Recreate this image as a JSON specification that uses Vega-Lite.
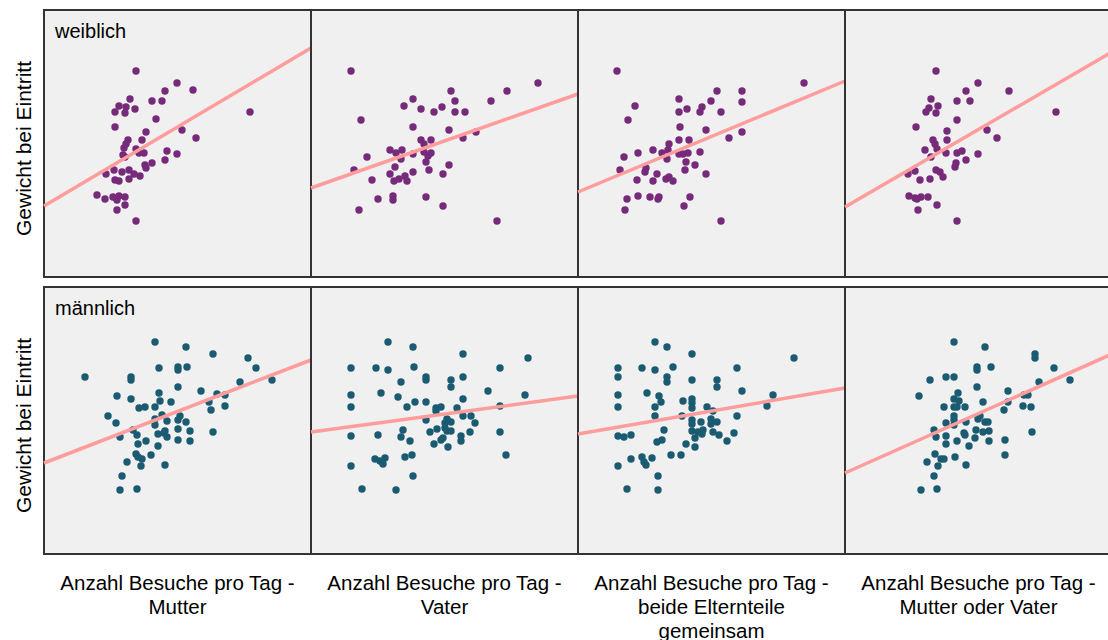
{
"$schema": "https://vega.github.io/schema/vega-lite/v6.json",
"padding": {"left": 13, "top": 9, "right": 0, "bottom": 0},
"background": "white",
"bounds": "flush",
"data": {"values": [
{"s":"weiblich","v":"Mutter","k":"l"},
{"s":"männlich","v":"Mutter","k":"l"},
{"s":"weiblich","v":"Mutter","k":"f","x":0,"y":71},
{"s":"weiblich","v":"Mutter","k":"f","x":267,"y":229},
{"s":"weiblich","v":"Vater","k":"f","x":0,"y":89},
{"s":"weiblich","v":"Vater","k":"f","x":267,"y":183},
{"s":"weiblich","v":"beide Elternteile gemeinsam","k":"f","x":0,"y":85},
{"s":"weiblich","v":"beide Elternteile gemeinsam","k":"f","x":267,"y":196},
{"s":"weiblich","v":"Mutter oder Vater","k":"f","x":0,"y":70},
{"s":"weiblich","v":"Mutter oder Vater","k":"f","x":267,"y":225},
{"s":"männlich","v":"Mutter","k":"f","x":0,"y":91},
{"s":"männlich","v":"Mutter","k":"f","x":267,"y":194},
{"s":"männlich","v":"Vater","k":"f","x":0,"y":122},
{"s":"männlich","v":"Vater","k":"f","x":267,"y":158},
{"s":"männlich","v":"beide Elternteile gemeinsam","k":"f","x":0,"y":120},
{"s":"männlich","v":"beide Elternteile gemeinsam","k":"f","x":267,"y":166},
{"s":"männlich","v":"Mutter oder Vater","k":"f","x":0,"y":81},
{"s":"männlich","v":"Mutter oder Vater","k":"f","x":267,"y":200},
{"s":"weiblich","v":"Mutter","k":"p","x":92,"y":206},
{"s":"weiblich","v":"Mutter","k":"p","x":133,"y":194},
{"s":"weiblich","v":"Mutter","k":"p","x":121,"y":186},
{"s":"weiblich","v":"Mutter","k":"p","x":149,"y":187},
{"s":"weiblich","v":"Mutter","k":"p","x":86,"y":178},
{"s":"weiblich","v":"Mutter","k":"p","x":108,"y":176},
{"s":"weiblich","v":"Mutter","k":"p","x":118,"y":176},
{"s":"weiblich","v":"Mutter","k":"p","x":75,"y":171},
{"s":"weiblich","v":"Mutter","k":"p","x":82,"y":170},
{"s":"weiblich","v":"Mutter","k":"p","x":91,"y":168},
{"s":"weiblich","v":"Mutter","k":"p","x":71,"y":165},
{"s":"weiblich","v":"Mutter","k":"p","x":81,"y":164},
{"s":"weiblich","v":"Mutter","k":"p","x":206,"y":165},
{"s":"weiblich","v":"Mutter","k":"p","x":112,"y":158},
{"s":"weiblich","v":"Mutter","k":"p","x":71,"y":150},
{"s":"weiblich","v":"Mutter","k":"p","x":102,"y":145},
{"s":"weiblich","v":"Mutter","k":"p","x":138,"y":147},
{"s":"weiblich","v":"Mutter","k":"p","x":152,"y":139},
{"s":"weiblich","v":"Mutter","k":"p","x":98,"y":137},
{"s":"weiblich","v":"Mutter","k":"p","x":84,"y":137},
{"s":"weiblich","v":"Mutter","k":"p","x":82,"y":133},
{"s":"weiblich","v":"Mutter","k":"p","x":80,"y":129},
{"s":"weiblich","v":"Mutter","k":"p","x":92,"y":128},
{"s":"weiblich","v":"Mutter","k":"p","x":95,"y":124},
{"s":"weiblich","v":"Mutter","k":"p","x":100,"y":124},
{"s":"weiblich","v":"Mutter","k":"p","x":79,"y":122},
{"s":"weiblich","v":"Mutter","k":"p","x":123,"y":126},
{"s":"weiblich","v":"Mutter","k":"p","x":133,"y":123},
{"s":"weiblich","v":"Mutter","k":"p","x":81,"y":120},
{"s":"weiblich","v":"Mutter","k":"p","x":108,"y":114},
{"s":"weiblich","v":"Mutter","k":"p","x":121,"y":117},
{"s":"weiblich","v":"Mutter","k":"p","x":101,"y":112},
{"s":"weiblich","v":"Mutter","k":"p","x":102,"y":109},
{"s":"weiblich","v":"Mutter","k":"p","x":70,"y":107},
{"s":"weiblich","v":"Mutter","k":"p","x":62,"y":103},
{"s":"weiblich","v":"Mutter","k":"p","x":78,"y":105},
{"s":"weiblich","v":"Mutter","k":"p","x":85,"y":107},
{"s":"weiblich","v":"Mutter","k":"p","x":90,"y":103},
{"s":"weiblich","v":"Mutter","k":"p","x":96,"y":101},
{"s":"weiblich","v":"Mutter","k":"p","x":71,"y":97},
{"s":"weiblich","v":"Mutter","k":"p","x":75,"y":96},
{"s":"weiblich","v":"Mutter","k":"p","x":85,"y":98},
{"s":"weiblich","v":"Mutter","k":"p","x":53,"y":82},
{"s":"weiblich","v":"Mutter","k":"p","x":61,"y":78},
{"s":"weiblich","v":"Mutter","k":"p","x":69,"y":80},
{"s":"weiblich","v":"Mutter","k":"p","x":75,"y":81},
{"s":"weiblich","v":"Mutter","k":"p","x":81,"y":80},
{"s":"weiblich","v":"Mutter","k":"p","x":73,"y":77},
{"s":"weiblich","v":"Mutter","k":"p","x":81,"y":72},
{"s":"weiblich","v":"Mutter","k":"p","x":73,"y":67},
{"s":"weiblich","v":"Mutter","k":"p","x":92,"y":56},
{"s":"weiblich","v":"Vater","k":"p","x":40,"y":206},
{"s":"weiblich","v":"Vater","k":"p","x":227,"y":194},
{"s":"weiblich","v":"Vater","k":"p","x":196,"y":186},
{"s":"weiblich","v":"Vater","k":"p","x":140,"y":186},
{"s":"weiblich","v":"Vater","k":"p","x":102,"y":178},
{"s":"weiblich","v":"Vater","k":"p","x":144,"y":176},
{"s":"weiblich","v":"Vater","k":"p","x":180,"y":176},
{"s":"weiblich","v":"Vater","k":"p","x":93,"y":171},
{"s":"weiblich","v":"Vater","k":"p","x":110,"y":168},
{"s":"weiblich","v":"Vater","k":"p","x":131,"y":170},
{"s":"weiblich","v":"Vater","k":"p","x":123,"y":165},
{"s":"weiblich","v":"Vater","k":"p","x":144,"y":165},
{"s":"weiblich","v":"Vater","k":"p","x":154,"y":165},
{"s":"weiblich","v":"Vater","k":"p","x":50,"y":157},
{"s":"weiblich","v":"Vater","k":"p","x":102,"y":150},
{"s":"weiblich","v":"Vater","k":"p","x":138,"y":147},
{"s":"weiblich","v":"Vater","k":"p","x":165,"y":145},
{"s":"weiblich","v":"Vater","k":"p","x":152,"y":139},
{"s":"weiblich","v":"Vater","k":"p","x":110,"y":137},
{"s":"weiblich","v":"Vater","k":"p","x":120,"y":137},
{"s":"weiblich","v":"Vater","k":"p","x":113,"y":133},
{"s":"weiblich","v":"Vater","k":"p","x":79,"y":127},
{"s":"weiblich","v":"Vater","k":"p","x":91,"y":127},
{"s":"weiblich","v":"Vater","k":"p","x":85,"y":124},
{"s":"weiblich","v":"Vater","k":"p","x":102,"y":123},
{"s":"weiblich","v":"Vater","k":"p","x":113,"y":125},
{"s":"weiblich","v":"Vater","k":"p","x":120,"y":124},
{"s":"weiblich","v":"Vater","k":"p","x":117,"y":121},
{"s":"weiblich","v":"Vater","k":"p","x":56,"y":120},
{"s":"weiblich","v":"Vater","k":"p","x":90,"y":118},
{"s":"weiblich","v":"Vater","k":"p","x":115,"y":115},
{"s":"weiblich","v":"Vater","k":"p","x":138,"y":112},
{"s":"weiblich","v":"Vater","k":"p","x":84,"y":110},
{"s":"weiblich","v":"Vater","k":"p","x":43,"y":107},
{"s":"weiblich","v":"Vater","k":"p","x":118,"y":107},
{"s":"weiblich","v":"Vater","k":"p","x":102,"y":105},
{"s":"weiblich","v":"Vater","k":"p","x":79,"y":103},
{"s":"weiblich","v":"Vater","k":"p","x":132,"y":103},
{"s":"weiblich","v":"Vater","k":"p","x":94,"y":101},
{"s":"weiblich","v":"Vater","k":"p","x":61,"y":97},
{"s":"weiblich","v":"Vater","k":"p","x":83,"y":96},
{"s":"weiblich","v":"Vater","k":"p","x":88,"y":98},
{"s":"weiblich","v":"Vater","k":"p","x":96,"y":96},
{"s":"weiblich","v":"Vater","k":"p","x":67,"y":78},
{"s":"weiblich","v":"Vater","k":"p","x":82,"y":81},
{"s":"weiblich","v":"Vater","k":"p","x":82,"y":77},
{"s":"weiblich","v":"Vater","k":"p","x":115,"y":80},
{"s":"weiblich","v":"Vater","k":"p","x":132,"y":71},
{"s":"weiblich","v":"Vater","k":"p","x":48,"y":67},
{"s":"weiblich","v":"Vater","k":"p","x":186,"y":56},
{"s":"weiblich","v":"beide Elternteile gemeinsam","k":"p","x":39,"y":206},
{"s":"weiblich","v":"beide Elternteile gemeinsam","k":"p","x":226,"y":194},
{"s":"weiblich","v":"beide Elternteile gemeinsam","k":"p","x":139,"y":186},
{"s":"weiblich","v":"beide Elternteile gemeinsam","k":"p","x":164,"y":186},
{"s":"weiblich","v":"beide Elternteile gemeinsam","k":"p","x":101,"y":178},
{"s":"weiblich","v":"beide Elternteile gemeinsam","k":"p","x":133,"y":176},
{"s":"weiblich","v":"beide Elternteile gemeinsam","k":"p","x":164,"y":175},
{"s":"weiblich","v":"beide Elternteile gemeinsam","k":"p","x":57,"y":171},
{"s":"weiblich","v":"beide Elternteile gemeinsam","k":"p","x":109,"y":168},
{"s":"weiblich","v":"beide Elternteile gemeinsam","k":"p","x":124,"y":170},
{"s":"weiblich","v":"beide Elternteile gemeinsam","k":"p","x":122,"y":165},
{"s":"weiblich","v":"beide Elternteile gemeinsam","k":"p","x":101,"y":165},
{"s":"weiblich","v":"beide Elternteile gemeinsam","k":"p","x":143,"y":165},
{"s":"weiblich","v":"beide Elternteile gemeinsam","k":"p","x":50,"y":157},
{"s":"weiblich","v":"beide Elternteile gemeinsam","k":"p","x":102,"y":150},
{"s":"weiblich","v":"beide Elternteile gemeinsam","k":"p","x":128,"y":147},
{"s":"weiblich","v":"beide Elternteile gemeinsam","k":"p","x":164,"y":145},
{"s":"weiblich","v":"beide Elternteile gemeinsam","k":"p","x":151,"y":139},
{"s":"weiblich","v":"beide Elternteile gemeinsam","k":"p","x":101,"y":137},
{"s":"weiblich","v":"beide Elternteile gemeinsam","k":"p","x":111,"y":137},
{"s":"weiblich","v":"beide Elternteile gemeinsam","k":"p","x":91,"y":133},
{"s":"weiblich","v":"beide Elternteile gemeinsam","k":"p","x":75,"y":127},
{"s":"weiblich","v":"beide Elternteile gemeinsam","k":"p","x":60,"y":124},
{"s":"weiblich","v":"beide Elternteile gemeinsam","k":"p","x":84,"y":124},
{"s":"weiblich","v":"beide Elternteile gemeinsam","k":"p","x":90,"y":127},
{"s":"weiblich","v":"beide Elternteile gemeinsam","k":"p","x":101,"y":123},
{"s":"weiblich","v":"beide Elternteile gemeinsam","k":"p","x":105,"y":123},
{"s":"weiblich","v":"beide Elternteile gemeinsam","k":"p","x":110,"y":124},
{"s":"weiblich","v":"beide Elternteile gemeinsam","k":"p","x":122,"y":125},
{"s":"weiblich","v":"beide Elternteile gemeinsam","k":"p","x":46,"y":120},
{"s":"weiblich","v":"beide Elternteile gemeinsam","k":"p","x":89,"y":118},
{"s":"weiblich","v":"beide Elternteile gemeinsam","k":"p","x":108,"y":115},
{"s":"weiblich","v":"beide Elternteile gemeinsam","k":"p","x":117,"y":112},
{"s":"weiblich","v":"beide Elternteile gemeinsam","k":"p","x":42,"y":107},
{"s":"weiblich","v":"beide Elternteile gemeinsam","k":"p","x":68,"y":109},
{"s":"weiblich","v":"beide Elternteile gemeinsam","k":"p","x":67,"y":105},
{"s":"weiblich","v":"beide Elternteile gemeinsam","k":"p","x":107,"y":107},
{"s":"weiblich","v":"beide Elternteile gemeinsam","k":"p","x":79,"y":103},
{"s":"weiblich","v":"beide Elternteile gemeinsam","k":"p","x":128,"y":103},
{"s":"weiblich","v":"beide Elternteile gemeinsam","k":"p","x":59,"y":97},
{"s":"weiblich","v":"beide Elternteile gemeinsam","k":"p","x":75,"y":96},
{"s":"weiblich","v":"beide Elternteile gemeinsam","k":"p","x":88,"y":98},
{"s":"weiblich","v":"beide Elternteile gemeinsam","k":"p","x":91,"y":100},
{"s":"weiblich","v":"beide Elternteile gemeinsam","k":"p","x":95,"y":96},
{"s":"weiblich","v":"beide Elternteile gemeinsam","k":"p","x":49,"y":78},
{"s":"weiblich","v":"beide Elternteile gemeinsam","k":"p","x":60,"y":81},
{"s":"weiblich","v":"beide Elternteile gemeinsam","k":"p","x":72,"y":80},
{"s":"weiblich","v":"beide Elternteile gemeinsam","k":"p","x":81,"y":80},
{"s":"weiblich","v":"beide Elternteile gemeinsam","k":"p","x":80,"y":78},
{"s":"weiblich","v":"beide Elternteile gemeinsam","k":"p","x":112,"y":80},
{"s":"weiblich","v":"beide Elternteile gemeinsam","k":"p","x":106,"y":71},
{"s":"weiblich","v":"beide Elternteile gemeinsam","k":"p","x":47,"y":67},
{"s":"weiblich","v":"beide Elternteile gemeinsam","k":"p","x":143,"y":56},
{"s":"weiblich","v":"Mutter oder Vater","k":"p","x":91,"y":206},
{"s":"weiblich","v":"Mutter oder Vater","k":"p","x":133,"y":194},
{"s":"weiblich","v":"Mutter oder Vater","k":"p","x":121,"y":186},
{"s":"weiblich","v":"Mutter oder Vater","k":"p","x":164,"y":186},
{"s":"weiblich","v":"Mutter oder Vater","k":"p","x":86,"y":178},
{"s":"weiblich","v":"Mutter oder Vater","k":"p","x":112,"y":176},
{"s":"weiblich","v":"Mutter oder Vater","k":"p","x":125,"y":176},
{"s":"weiblich","v":"Mutter oder Vater","k":"p","x":93,"y":171},
{"s":"weiblich","v":"Mutter oder Vater","k":"p","x":84,"y":169},
{"s":"weiblich","v":"Mutter oder Vater","k":"p","x":81,"y":165},
{"s":"weiblich","v":"Mutter oder Vater","k":"p","x":91,"y":164},
{"s":"weiblich","v":"Mutter oder Vater","k":"p","x":211,"y":165},
{"s":"weiblich","v":"Mutter oder Vater","k":"p","x":112,"y":157},
{"s":"weiblich","v":"Mutter oder Vater","k":"p","x":71,"y":150},
{"s":"weiblich","v":"Mutter oder Vater","k":"p","x":102,"y":146},
{"s":"weiblich","v":"Mutter oder Vater","k":"p","x":142,"y":147},
{"s":"weiblich","v":"Mutter oder Vater","k":"p","x":152,"y":139},
{"s":"weiblich","v":"Mutter oder Vater","k":"p","x":102,"y":137},
{"s":"weiblich","v":"Mutter oder Vater","k":"p","x":88,"y":137},
{"s":"weiblich","v":"Mutter oder Vater","k":"p","x":90,"y":133},
{"s":"weiblich","v":"Mutter oder Vater","k":"p","x":80,"y":127},
{"s":"weiblich","v":"Mutter oder Vater","k":"p","x":92,"y":128},
{"s":"weiblich","v":"Mutter oder Vater","k":"p","x":101,"y":124},
{"s":"weiblich","v":"Mutter oder Vater","k":"p","x":112,"y":124},
{"s":"weiblich","v":"Mutter oder Vater","k":"p","x":117,"y":126},
{"s":"weiblich","v":"Mutter oder Vater","k":"p","x":86,"y":120},
{"s":"weiblich","v":"Mutter oder Vater","k":"p","x":133,"y":123},
{"s":"weiblich","v":"Mutter oder Vater","k":"p","x":121,"y":117},
{"s":"weiblich","v":"Mutter oder Vater","k":"p","x":111,"y":114},
{"s":"weiblich","v":"Mutter oder Vater","k":"p","x":110,"y":110},
{"s":"weiblich","v":"Mutter oder Vater","k":"p","x":63,"y":103},
{"s":"weiblich","v":"Mutter oder Vater","k":"p","x":70,"y":106},
{"s":"weiblich","v":"Mutter oder Vater","k":"p","x":91,"y":107},
{"s":"weiblich","v":"Mutter oder Vater","k":"p","x":95,"y":105},
{"s":"weiblich","v":"Mutter oder Vater","k":"p","x":98,"y":100},
{"s":"weiblich","v":"Mutter oder Vater","k":"p","x":75,"y":97},
{"s":"weiblich","v":"Mutter oder Vater","k":"p","x":85,"y":98},
{"s":"weiblich","v":"Mutter oder Vater","k":"p","x":64,"y":81},
{"s":"weiblich","v":"Mutter oder Vater","k":"p","x":70,"y":79},
{"s":"weiblich","v":"Mutter oder Vater","k":"p","x":76,"y":80},
{"s":"weiblich","v":"Mutter oder Vater","k":"p","x":83,"y":80},
{"s":"weiblich","v":"Mutter oder Vater","k":"p","x":72,"y":78},
{"s":"weiblich","v":"Mutter oder Vater","k":"p","x":92,"y":72},
{"s":"weiblich","v":"Mutter oder Vater","k":"p","x":73,"y":67},
{"s":"weiblich","v":"Mutter oder Vater","k":"p","x":112,"y":56},
{"s":"männlich","v":"Mutter","k":"p","x":111,"y":212},
{"s":"männlich","v":"Mutter","k":"p","x":142,"y":207},
{"s":"männlich","v":"Mutter","k":"p","x":169,"y":200},
{"s":"männlich","v":"Mutter","k":"p","x":204,"y":196},
{"s":"männlich","v":"Mutter","k":"p","x":212,"y":186},
{"s":"männlich","v":"Mutter","k":"p","x":115,"y":186},
{"s":"männlich","v":"Mutter","k":"p","x":134,"y":187},
{"s":"männlich","v":"Mutter","k":"p","x":134,"y":184},
{"s":"männlich","v":"Mutter","k":"p","x":143,"y":187},
{"s":"männlich","v":"Mutter","k":"p","x":41,"y":177},
{"s":"männlich","v":"Mutter","k":"p","x":87,"y":177},
{"s":"männlich","v":"Mutter","k":"p","x":87,"y":174},
{"s":"männlich","v":"Mutter","k":"p","x":228,"y":174},
{"s":"männlich","v":"Mutter","k":"p","x":196,"y":172},
{"s":"männlich","v":"Mutter","k":"p","x":134,"y":167},
{"s":"männlich","v":"Mutter","k":"p","x":157,"y":163},
{"s":"männlich","v":"Mutter","k":"p","x":115,"y":161},
{"s":"männlich","v":"Mutter","k":"p","x":173,"y":160},
{"s":"männlich","v":"Mutter","k":"p","x":181,"y":159},
{"s":"männlich","v":"Mutter","k":"p","x":73,"y":158},
{"s":"männlich","v":"Mutter","k":"p","x":87,"y":155},
{"s":"männlich","v":"Mutter","k":"p","x":116,"y":153},
{"s":"männlich","v":"Mutter","k":"p","x":127,"y":152},
{"s":"männlich","v":"Mutter","k":"p","x":165,"y":152},
{"s":"männlich","v":"Mutter","k":"p","x":95,"y":146},
{"s":"männlich","v":"Mutter","k":"p","x":101,"y":147},
{"s":"männlich","v":"Mutter","k":"p","x":111,"y":147},
{"s":"männlich","v":"Mutter","k":"p","x":181,"y":148},
{"s":"männlich","v":"Mutter","k":"p","x":167,"y":144},
{"s":"männlich","v":"Mutter","k":"p","x":118,"y":139},
{"s":"männlich","v":"Mutter","k":"p","x":64,"y":138},
{"s":"männlich","v":"Mutter","k":"p","x":111,"y":135},
{"s":"männlich","v":"Mutter","k":"p","x":136,"y":138},
{"s":"männlich","v":"Mutter","k":"p","x":134,"y":134},
{"s":"männlich","v":"Mutter","k":"p","x":72,"y":131},
{"s":"männlich","v":"Mutter","k":"p","x":123,"y":133},
{"s":"männlich","v":"Mutter","k":"p","x":142,"y":132},
{"s":"männlich","v":"Mutter","k":"p","x":111,"y":129},
{"s":"männlich","v":"Mutter","k":"p","x":89,"y":124},
{"s":"männlich","v":"Mutter","k":"p","x":134,"y":125},
{"s":"männlich","v":"Mutter","k":"p","x":146,"y":123},
{"s":"männlich","v":"Mutter","k":"p","x":169,"y":122},
{"s":"männlich","v":"Mutter","k":"p","x":114,"y":120},
{"s":"männlich","v":"Mutter","k":"p","x":120,"y":121},
{"s":"männlich","v":"Mutter","k":"p","x":121,"y":123},
{"s":"männlich","v":"Mutter","k":"p","x":93,"y":119},
{"s":"männlich","v":"Mutter","k":"p","x":76,"y":117},
{"s":"männlich","v":"Mutter","k":"p","x":123,"y":117},
{"s":"männlich","v":"Mutter","k":"p","x":134,"y":114},
{"s":"männlich","v":"Mutter","k":"p","x":146,"y":113},
{"s":"männlich","v":"Mutter","k":"p","x":102,"y":113},
{"s":"männlich","v":"Mutter","k":"p","x":94,"y":110},
{"s":"männlich","v":"Mutter","k":"p","x":114,"y":108},
{"s":"männlich","v":"Mutter","k":"p","x":92,"y":100},
{"s":"männlich","v":"Mutter","k":"p","x":107,"y":99},
{"s":"männlich","v":"Mutter","k":"p","x":94,"y":97},
{"s":"männlich","v":"Mutter","k":"p","x":98,"y":95},
{"s":"männlich","v":"Mutter","k":"p","x":83,"y":92},
{"s":"männlich","v":"Mutter","k":"p","x":121,"y":89},
{"s":"männlich","v":"Mutter","k":"p","x":97,"y":88},
{"s":"männlich","v":"Mutter","k":"p","x":78,"y":78},
{"s":"männlich","v":"Mutter","k":"p","x":76,"y":64},
{"s":"männlich","v":"Mutter","k":"p","x":93,"y":65},
{"s":"männlich","v":"Vater","k":"p","x":77,"y":212},
{"s":"männlich","v":"Vater","k":"p","x":102,"y":207},
{"s":"männlich","v":"Vater","k":"p","x":152,"y":200},
{"s":"männlich","v":"Vater","k":"p","x":217,"y":196},
{"s":"männlich","v":"Vater","k":"p","x":40,"y":186},
{"s":"männlich","v":"Vater","k":"p","x":65,"y":186},
{"s":"männlich","v":"Vater","k":"p","x":77,"y":184},
{"s":"männlich","v":"Vater","k":"p","x":103,"y":187},
{"s":"männlich","v":"Vater","k":"p","x":189,"y":186},
{"s":"männlich","v":"Vater","k":"p","x":115,"y":177},
{"s":"männlich","v":"Vater","k":"p","x":115,"y":174},
{"s":"männlich","v":"Vater","k":"p","x":140,"y":174},
{"s":"männlich","v":"Vater","k":"p","x":152,"y":177},
{"s":"männlich","v":"Vater","k":"p","x":90,"y":172},
{"s":"männlich","v":"Vater","k":"p","x":140,"y":167},
{"s":"männlich","v":"Vater","k":"p","x":177,"y":163},
{"s":"männlich","v":"Vater","k":"p","x":70,"y":161},
{"s":"männlich","v":"Vater","k":"p","x":40,"y":159},
{"s":"männlich","v":"Vater","k":"p","x":214,"y":159},
{"s":"männlich","v":"Vater","k":"p","x":87,"y":157},
{"s":"männlich","v":"Vater","k":"p","x":152,"y":155},
{"s":"männlich","v":"Vater","k":"p","x":104,"y":152},
{"s":"männlich","v":"Vater","k":"p","x":115,"y":152},
{"s":"männlich","v":"Vater","k":"p","x":40,"y":147},
{"s":"männlich","v":"Vater","k":"p","x":96,"y":147},
{"s":"männlich","v":"Vater","k":"p","x":125,"y":146},
{"s":"männlich","v":"Vater","k":"p","x":130,"y":147},
{"s":"männlich","v":"Vater","k":"p","x":146,"y":146},
{"s":"männlich","v":"Vater","k":"p","x":189,"y":148},
{"s":"männlich","v":"Vater","k":"p","x":125,"y":143},
{"s":"männlich","v":"Vater","k":"p","x":152,"y":138},
{"s":"männlich","v":"Vater","k":"p","x":160,"y":138},
{"s":"männlich","v":"Vater","k":"p","x":115,"y":134},
{"s":"männlich","v":"Vater","k":"p","x":136,"y":135},
{"s":"männlich","v":"Vater","k":"p","x":164,"y":131},
{"s":"männlich","v":"Vater","k":"p","x":134,"y":131},
{"s":"männlich","v":"Vater","k":"p","x":140,"y":132},
{"s":"männlich","v":"Vater","k":"p","x":134,"y":126},
{"s":"männlich","v":"Vater","k":"p","x":126,"y":125},
{"s":"männlich","v":"Vater","k":"p","x":119,"y":122},
{"s":"männlich","v":"Vater","k":"p","x":92,"y":124},
{"s":"männlich","v":"Vater","k":"p","x":136,"y":123},
{"s":"männlich","v":"Vater","k":"p","x":140,"y":123},
{"s":"männlich","v":"Vater","k":"p","x":159,"y":122},
{"s":"männlich","v":"Vater","k":"p","x":189,"y":122},
{"s":"männlich","v":"Vater","k":"p","x":40,"y":118},
{"s":"männlich","v":"Vater","k":"p","x":67,"y":119},
{"s":"männlich","v":"Vater","k":"p","x":90,"y":117},
{"s":"männlich","v":"Vater","k":"p","x":150,"y":118},
{"s":"männlich","v":"Vater","k":"p","x":132,"y":116},
{"s":"männlich","v":"Vater","k":"p","x":130,"y":114},
{"s":"männlich","v":"Vater","k":"p","x":150,"y":113},
{"s":"männlich","v":"Vater","k":"p","x":99,"y":113},
{"s":"männlich","v":"Vater","k":"p","x":123,"y":110},
{"s":"männlich","v":"Vater","k":"p","x":137,"y":107},
{"s":"männlich","v":"Vater","k":"p","x":195,"y":99},
{"s":"männlich","v":"Vater","k":"p","x":101,"y":99},
{"s":"männlich","v":"Vater","k":"p","x":94,"y":97},
{"s":"männlich","v":"Vater","k":"p","x":64,"y":95},
{"s":"männlich","v":"Vater","k":"p","x":74,"y":96},
{"s":"männlich","v":"Vater","k":"p","x":69,"y":93},
{"s":"männlich","v":"Vater","k":"p","x":72,"y":90},
{"s":"männlich","v":"Vater","k":"p","x":40,"y":88},
{"s":"männlich","v":"Vater","k":"p","x":102,"y":78},
{"s":"männlich","v":"Vater","k":"p","x":51,"y":65},
{"s":"männlich","v":"Vater","k":"p","x":85,"y":64},
{"s":"männlich","v":"beide Elternteile gemeinsam","k":"p","x":77,"y":212},
{"s":"männlich","v":"beide Elternteile gemeinsam","k":"p","x":89,"y":207},
{"s":"männlich","v":"beide Elternteile gemeinsam","k":"p","x":114,"y":200},
{"s":"männlich","v":"beide Elternteile gemeinsam","k":"p","x":216,"y":196},
{"s":"männlich","v":"beide Elternteile gemeinsam","k":"p","x":40,"y":186},
{"s":"männlich","v":"beide Elternteile gemeinsam","k":"p","x":64,"y":186},
{"s":"männlich","v":"beide Elternteile gemeinsam","k":"p","x":77,"y":184},
{"s":"männlich","v":"beide Elternteile gemeinsam","k":"p","x":95,"y":187},
{"s":"männlich","v":"beide Elternteile gemeinsam","k":"p","x":159,"y":186},
{"s":"männlich","v":"beide Elternteile gemeinsam","k":"p","x":40,"y":177},
{"s":"männlich","v":"beide Elternteile gemeinsam","k":"p","x":89,"y":177},
{"s":"männlich","v":"beide Elternteile gemeinsam","k":"p","x":89,"y":172},
{"s":"männlich","v":"beide Elternteile gemeinsam","k":"p","x":114,"y":174},
{"s":"männlich","v":"beide Elternteile gemeinsam","k":"p","x":139,"y":174},
{"s":"männlich","v":"beide Elternteile gemeinsam","k":"p","x":139,"y":167},
{"s":"männlich","v":"beide Elternteile gemeinsam","k":"p","x":164,"y":163},
{"s":"männlich","v":"beide Elternteile gemeinsam","k":"p","x":69,"y":161},
{"s":"männlich","v":"beide Elternteile gemeinsam","k":"p","x":40,"y":159},
{"s":"männlich","v":"beide Elternteile gemeinsam","k":"p","x":81,"y":158},
{"s":"männlich","v":"beide Elternteile gemeinsam","k":"p","x":195,"y":159},
{"s":"männlich","v":"beide Elternteile gemeinsam","k":"p","x":83,"y":152},
{"s":"männlich","v":"beide Elternteile gemeinsam","k":"p","x":105,"y":153},
{"s":"männlich","v":"beide Elternteile gemeinsam","k":"p","x":114,"y":155},
{"s":"männlich","v":"beide Elternteile gemeinsam","k":"p","x":114,"y":151},
{"s":"männlich","v":"beide Elternteile gemeinsam","k":"p","x":40,"y":147},
{"s":"männlich","v":"beide Elternteile gemeinsam","k":"p","x":77,"y":147},
{"s":"männlich","v":"beide Elternteile gemeinsam","k":"p","x":114,"y":146},
{"s":"männlich","v":"beide Elternteile gemeinsam","k":"p","x":129,"y":147},
{"s":"männlich","v":"beide Elternteile gemeinsam","k":"p","x":135,"y":143},
{"s":"männlich","v":"beide Elternteile gemeinsam","k":"p","x":189,"y":148},
{"s":"männlich","v":"beide Elternteile gemeinsam","k":"p","x":77,"y":138},
{"s":"männlich","v":"beide Elternteile gemeinsam","k":"p","x":104,"y":138},
{"s":"männlich","v":"beide Elternteile gemeinsam","k":"p","x":159,"y":138},
{"s":"männlich","v":"beide Elternteile gemeinsam","k":"p","x":114,"y":134},
{"s":"männlich","v":"beide Elternteile gemeinsam","k":"p","x":133,"y":135},
{"s":"männlich","v":"beide Elternteile gemeinsam","k":"p","x":123,"y":132},
{"s":"männlich","v":"beide Elternteile gemeinsam","k":"p","x":114,"y":130},
{"s":"männlich","v":"beide Elternteile gemeinsam","k":"p","x":139,"y":132},
{"s":"männlich","v":"beide Elternteile gemeinsam","k":"p","x":133,"y":130},
{"s":"männlich","v":"beide Elternteile gemeinsam","k":"p","x":86,"y":124},
{"s":"männlich","v":"beide Elternteile gemeinsam","k":"p","x":114,"y":123},
{"s":"männlich","v":"beide Elternteile gemeinsam","k":"p","x":120,"y":122},
{"s":"männlich","v":"beide Elternteile gemeinsam","k":"p","x":125,"y":124},
{"s":"männlich","v":"beide Elternteile gemeinsam","k":"p","x":135,"y":122},
{"s":"männlich","v":"beide Elternteile gemeinsam","k":"p","x":156,"y":121},
{"s":"männlich","v":"beide Elternteile gemeinsam","k":"p","x":40,"y":118},
{"s":"männlich","v":"beide Elternteile gemeinsam","k":"p","x":46,"y":117},
{"s":"männlich","v":"beide Elternteile gemeinsam","k":"p","x":53,"y":119},
{"s":"männlich","v":"beide Elternteile gemeinsam","k":"p","x":124,"y":120},
{"s":"männlich","v":"beide Elternteile gemeinsam","k":"p","x":117,"y":116},
{"s":"männlich","v":"beide Elternteile gemeinsam","k":"p","x":141,"y":119},
{"s":"männlich","v":"beide Elternteile gemeinsam","k":"p","x":79,"y":112},
{"s":"männlich","v":"beide Elternteile gemeinsam","k":"p","x":84,"y":114},
{"s":"männlich","v":"beide Elternteile gemeinsam","k":"p","x":149,"y":113},
{"s":"männlich","v":"beide Elternteile gemeinsam","k":"p","x":108,"y":110},
{"s":"männlich","v":"beide Elternteile gemeinsam","k":"p","x":117,"y":107},
{"s":"männlich","v":"beide Elternteile gemeinsam","k":"p","x":93,"y":99},
{"s":"männlich","v":"beide Elternteile gemeinsam","k":"p","x":103,"y":99},
{"s":"männlich","v":"beide Elternteile gemeinsam","k":"p","x":64,"y":97},
{"s":"männlich","v":"beide Elternteile gemeinsam","k":"p","x":74,"y":96},
{"s":"männlich","v":"beide Elternteile gemeinsam","k":"p","x":53,"y":95},
{"s":"männlich","v":"beide Elternteile gemeinsam","k":"p","x":66,"y":92},
{"s":"männlich","v":"beide Elternteile gemeinsam","k":"p","x":68,"y":89},
{"s":"männlich","v":"beide Elternteile gemeinsam","k":"p","x":40,"y":88},
{"s":"männlich","v":"beide Elternteile gemeinsam","k":"p","x":80,"y":78},
{"s":"männlich","v":"beide Elternteile gemeinsam","k":"p","x":49,"y":65},
{"s":"männlich","v":"beide Elternteile gemeinsam","k":"p","x":80,"y":64},
{"s":"männlich","v":"Mutter oder Vater","k":"p","x":109,"y":212},
{"s":"männlich","v":"Mutter oder Vater","k":"p","x":140,"y":207},
{"s":"männlich","v":"Mutter oder Vater","k":"p","x":190,"y":200},
{"s":"männlich","v":"Mutter oder Vater","k":"p","x":190,"y":196},
{"s":"männlich","v":"Mutter oder Vater","k":"p","x":209,"y":186},
{"s":"männlich","v":"Mutter oder Vater","k":"p","x":132,"y":187},
{"s":"männlich","v":"Mutter oder Vater","k":"p","x":132,"y":184},
{"s":"männlich","v":"Mutter oder Vater","k":"p","x":146,"y":187},
{"s":"männlich","v":"Mutter oder Vater","k":"p","x":85,"y":174},
{"s":"männlich","v":"Mutter oder Vater","k":"p","x":101,"y":177},
{"s":"männlich","v":"Mutter oder Vater","k":"p","x":109,"y":177},
{"s":"männlich","v":"Mutter oder Vater","k":"p","x":225,"y":174},
{"s":"männlich","v":"Mutter oder Vater","k":"p","x":194,"y":172},
{"s":"männlich","v":"Mutter oder Vater","k":"p","x":132,"y":167},
{"s":"männlich","v":"Mutter oder Vater","k":"p","x":163,"y":163},
{"s":"männlich","v":"Mutter oder Vater","k":"p","x":113,"y":161},
{"s":"männlich","v":"Mutter oder Vater","k":"p","x":74,"y":158},
{"s":"männlich","v":"Mutter oder Vater","k":"p","x":179,"y":159},
{"s":"männlich","v":"Mutter oder Vater","k":"p","x":183,"y":159},
{"s":"männlich","v":"Mutter oder Vater","k":"p","x":109,"y":155},
{"s":"männlich","v":"Mutter oder Vater","k":"p","x":114,"y":153},
{"s":"männlich","v":"Mutter oder Vater","k":"p","x":138,"y":152},
{"s":"männlich","v":"Mutter oder Vater","k":"p","x":163,"y":152},
{"s":"männlich","v":"Mutter oder Vater","k":"p","x":99,"y":147},
{"s":"männlich","v":"Mutter oder Vater","k":"p","x":109,"y":147},
{"s":"männlich","v":"Mutter oder Vater","k":"p","x":112,"y":147},
{"s":"männlich","v":"Mutter oder Vater","k":"p","x":120,"y":147},
{"s":"männlich","v":"Mutter oder Vater","k":"p","x":178,"y":148},
{"s":"männlich","v":"Mutter oder Vater","k":"p","x":186,"y":147},
{"s":"männlich","v":"Mutter oder Vater","k":"p","x":159,"y":144},
{"s":"männlich","v":"Mutter oder Vater","k":"p","x":109,"y":138},
{"s":"männlich","v":"Mutter oder Vater","k":"p","x":133,"y":135},
{"s":"männlich","v":"Mutter oder Vater","k":"p","x":135,"y":138},
{"s":"männlich","v":"Mutter oder Vater","k":"p","x":109,"y":134},
{"s":"männlich","v":"Mutter oder Vater","k":"p","x":101,"y":131},
{"s":"männlich","v":"Mutter oder Vater","k":"p","x":121,"y":132},
{"s":"männlich","v":"Mutter oder Vater","k":"p","x":140,"y":132},
{"s":"männlich","v":"Mutter oder Vater","k":"p","x":143,"y":132},
{"s":"männlich","v":"Mutter oder Vater","k":"p","x":109,"y":129},
{"s":"männlich","v":"Mutter oder Vater","k":"p","x":89,"y":124},
{"s":"männlich","v":"Mutter oder Vater","k":"p","x":131,"y":124},
{"s":"männlich","v":"Mutter oder Vater","k":"p","x":138,"y":122},
{"s":"männlich","v":"Mutter oder Vater","k":"p","x":144,"y":123},
{"s":"männlich","v":"Mutter oder Vater","k":"p","x":119,"y":121},
{"s":"männlich","v":"Mutter oder Vater","k":"p","x":187,"y":122},
{"s":"männlich","v":"Mutter oder Vater","k":"p","x":91,"y":117},
{"s":"männlich","v":"Mutter oder Vater","k":"p","x":101,"y":118},
{"s":"männlich","v":"Mutter oder Vater","k":"p","x":120,"y":119},
{"s":"männlich","v":"Mutter oder Vater","k":"p","x":130,"y":116},
{"s":"männlich","v":"Mutter oder Vater","k":"p","x":160,"y":114},
{"s":"männlich","v":"Mutter oder Vater","k":"p","x":112,"y":113},
{"s":"männlich","v":"Mutter oder Vater","k":"p","x":144,"y":113},
{"s":"männlich","v":"Mutter oder Vater","k":"p","x":101,"y":110},
{"s":"männlich","v":"Mutter oder Vater","k":"p","x":124,"y":108},
{"s":"männlich","v":"Mutter oder Vater","k":"p","x":160,"y":99},
{"s":"männlich","v":"Mutter oder Vater","k":"p","x":90,"y":100},
{"s":"männlich","v":"Mutter oder Vater","k":"p","x":110,"y":97},
{"s":"männlich","v":"Mutter oder Vater","k":"p","x":96,"y":95},
{"s":"männlich","v":"Mutter oder Vater","k":"p","x":99,"y":95},
{"s":"männlich","v":"Mutter oder Vater","k":"p","x":82,"y":92},
{"s":"männlich","v":"Mutter oder Vater","k":"p","x":93,"y":88},
{"s":"männlich","v":"Mutter oder Vater","k":"p","x":121,"y":89},
{"s":"männlich","v":"Mutter oder Vater","k":"p","x":89,"y":78},
{"s":"männlich","v":"Mutter oder Vater","k":"p","x":76,"y":64},
{"s":"männlich","v":"Mutter oder Vater","k":"p","x":92,"y":65}
]},
"facet": {
  "row": {"field": "s", "type": "nominal", "sort": ["weiblich", "männlich"], "header": null},
  "column": {"field": "v", "type": "nominal", "sort": ["Mutter", "Vater", "beide Elternteile gemeinsam", "Mutter oder Vater"],
    "header": {"title": null, "labelOrient": "bottom", "labelFont": "Liberation Sans", "labelFontSize": 20.5, "labelColor": "black", "labelLineHeight": 24, "labelPadding": 20,
      "labelExpr": "datum.value == 'beide Elternteile gemeinsam' ? ['Anzahl Besuche pro Tag -', 'beide Elternteile', 'gemeinsam'] : ['Anzahl Besuche pro Tag -', datum.value]"}}
},
"spacing": {"row": 10, "column": 0},
"spec": {
  "width": 267,
  "height": 267,
  "layer": [
    {"transform": [{"filter": "datum.k == 'p'"}],
     "mark": {"type": "circle", "size": 55, "opacity": 1},
     "encoding": {
       "x": {"field": "x", "type": "quantitative", "scale": {"domain": [0, 267], "nice": false, "zero": false}, "axis": null},
       "y": {"field": "y", "type": "quantitative", "scale": {"domain": [0, 267], "nice": false, "zero": false}, "title": "Gewicht bei Eintritt"},
       "color": {"field": "s", "type": "nominal", "scale": {"domain": ["weiblich", "männlich"], "range": ["#762a7a", "#1b5b72"]}, "legend": null}
     }},
    {"transform": [{"filter": "datum.k == 'f'"}],
     "mark": {"type": "line", "color": "#ff9c9c", "strokeWidth": 3.5},
     "encoding": {
       "x": {"field": "x", "type": "quantitative", "axis": null},
       "y": {"field": "y", "type": "quantitative", "title": "Gewicht bei Eintritt"}
     }},
    {"transform": [{"filter": "datum.k == 'l'"}],
     "mark": {"type": "text", "align": "left", "baseline": "alphabetic", "font": "Liberation Sans", "fontSize": 20, "color": "black"},
     "encoding": {
       "x": {"datum": 11, "type": "quantitative", "axis": null},
       "y": {"datum": 239, "type": "quantitative", "title": "Gewicht bei Eintritt"},
       "text": {"field": "s"}
     }}
  ]
},
"config": {
  "view": {"fill": "#f0f0f0", "stroke": "#333333", "strokeWidth": 2},
  "axis": {"labels": false, "ticks": false, "domain": false, "grid": false, "titleFont": "Liberation Sans", "titleFontSize": 21, "titleFontWeight": "normal", "titleColor": "black", "titlePadding": 10, "titleY": 138}
}
}
